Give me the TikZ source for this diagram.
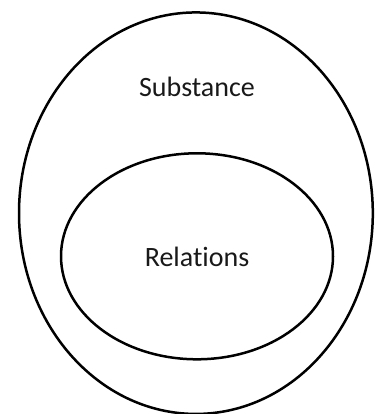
\documentclass[tikz,border=0pt]{standalone}
\usepackage{fontspec}
\setmainfont[Ligatures={NoCommon}]{Carlito}
\usetikzlibrary{shapes.geometric}
\begin{document}
\begin{tikzpicture}[x=1pt,y=1pt,
  region/.style={draw=black, line width=2.5pt, ellipse, inner sep=0pt, fill=none},
  tag/.style={font=\fontsize{28}{32}\selectfont, anchor=base, text=black!90}]
  \useasboundingbox (0,0) rectangle (376,414);
  % outer region
  \node[region, minimum width=353.8pt, minimum height=401.5pt] (substance) at (195.9,200.8) {};
  % inner region
  \node[region, minimum width=272pt, minimum height=206pt] (relations) at (197,157.7) {};
  % labels
  \node[tag] (substancelabel) at (197,317) {Substance};
  \node[tag] (relationslabel) at (197,147) {Relations};
\end{tikzpicture}
\end{document}
